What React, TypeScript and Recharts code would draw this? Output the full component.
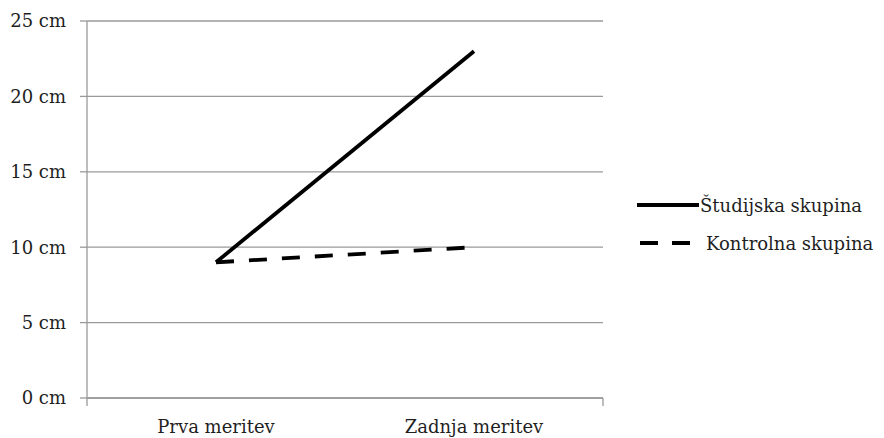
import React from "react";
import { LineChart, Line, XAxis, YAxis, CartesianGrid, Legend } from "recharts";

const categories = ["Prva meritev", "Zadnja meritev"];
const studijska = [9, 23];
const kontrolna = [9, 10];
const yTicks = [0, 5, 10, 15, 20, 25];
const seriesNames = ["Študijska skupina", "Kontrolna skupina"];

const data = categories.map((c, i) => ({ name: c, s: studijska[i], k: kontrolna[i] }));

const FONT = "'DejaVu Serif', serif";
const TXT = "#1f1f1f";
const FS = 18;

const LegendContent = () => (
  <div style={{ fontFamily: FONT, fontSize: FS, color: TXT, textAlign: "left" }}>
    <div style={{ display: "flex", alignItems: "center", height: 38 }}>
      <svg width={64} height={10}>
        <line x1={1} y1={5} x2={63} y2={5} stroke="#000" strokeWidth={4} />
      </svg>
      <span>{seriesNames[0]}</span>
    </div>
    <div style={{ display: "flex", alignItems: "center", height: 38 }}>
      <svg width={64} height={10}>
        <line x1={4} y1={5} x2={54} y2={5} stroke="#000" strokeWidth={4} strokeDasharray="18 14" />
      </svg>
      <span style={{ marginLeft: 6 }}>{seriesNames[1]}</span>
    </div>
  </div>
);

export default function App() {
  return (
    <div style={{ width: 884, height: 438, background: "#fff", position: "relative" }}>
      <style>{`body{margin:0}`}</style>
      <LineChart width={884} height={438} data={data} margin={{ top: 21, right: 281, bottom: 0, left: 0 }}>
        <CartesianGrid vertical={false} stroke="#9a9a9a" strokeWidth={1.3} />
        <XAxis
          xAxisId="a"
          type="number"
          domain={[0, 2]}
          ticks={[0, 1, 2]}
          interval={0}
          allowDataOverflow
          tickFormatter={() => ""}
          tickSize={8}
          stroke="#9a9a9a"
          strokeWidth={1.3}
          height={1}
        />
        <XAxis
          dataKey="name"
          xAxisId="b"
          scale="band"
          height={39}
          axisLine={false}
          tickLine={false}
          tickSize={0}
          tick={{ fill: TXT, fontFamily: FONT, fontSize: FS }}
          tickMargin={21}
        />
        <YAxis
          domain={[0, 25]}
          ticks={yTicks}
          width={87}
          tickSize={7}
          tickMargin={14}
          stroke="#9a9a9a"
          strokeWidth={1.3}
          tickFormatter={(v) => `${v} cm`}
          tick={{ fill: TXT, fontFamily: FONT, fontSize: FS }}
          interval={0}
        />
        <Legend
          layout="horizontal"
          verticalAlign="middle"
          align="center"
          content={<LegendContent />}
          wrapperStyle={{ position: "absolute", left: 636, top: 186, width: 248 }}
        />
        <Line xAxisId="b" dataKey="s" name={seriesNames[0]} stroke="#000" strokeWidth={3.8} dot={false} isAnimationActive={false} />
        <Line xAxisId="b" dataKey="k" name={seriesNames[1]} stroke="#000" strokeWidth={3.8} strokeDasharray="18 15" dot={false} isAnimationActive={false} />
      </LineChart>
    </div>
  );
}
